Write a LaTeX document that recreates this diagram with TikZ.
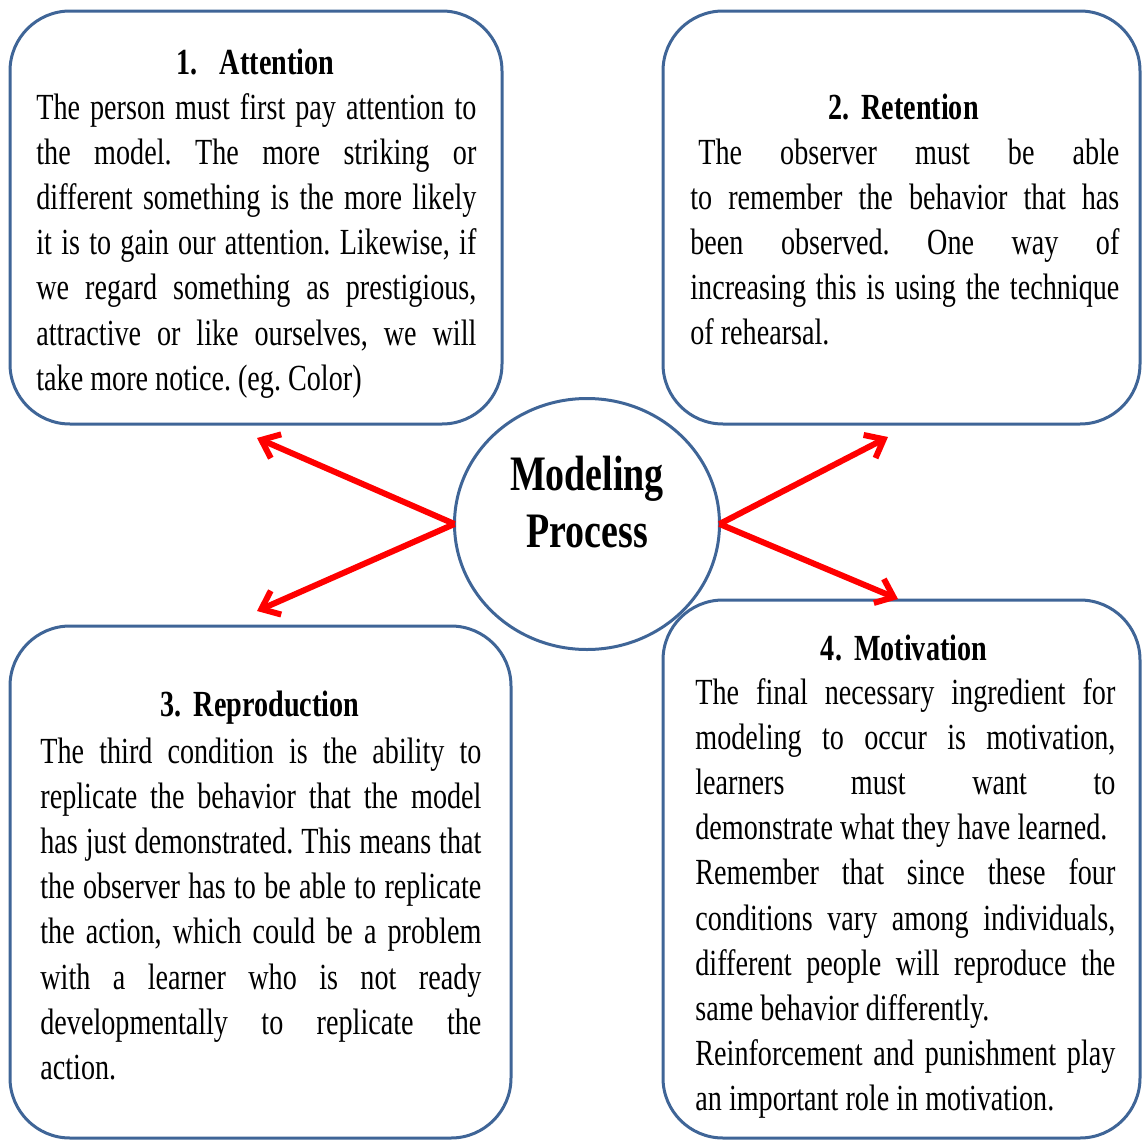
\documentclass[tikz,border=0pt]{standalone}
\usepackage{fontspec}
\setmainfont{Liberation Serif}[FakeStretch=0.765]
\usetikzlibrary{arrows.meta,shapes.geometric}
\definecolor{boxblue}{HTML}{3F6597}
\definecolor{pagegray}{HTML}{8C8C8C}
\tikzset{
  panel/.style={draw=boxblue, line width=1.5pt, rounded corners=30pt, fill=white},
  ttl/.style={anchor=base, inner sep=0pt, font=\fontsize{18.4}{22.6}\selectfont\bfseries},
  body/.style={anchor=base west, inner sep=0pt, align=justify,
    font=\fontsize{18.4}{22.6}\selectfont},
  hub/.style={ellipse, draw=boxblue, line width=1.5pt, fill=white, outer sep=0pt,
    minimum width=132.5pt, minimum height=125.5pt},
  hubtext/.style={anchor=base, inner sep=0pt, text width=100pt, align=center,
    font=\fontsize{24.8}{28.5}\selectfont\bfseries},
  link/.style={draw=red, line width=3pt, -{Straight Barb[length=8pt,width=13pt]}},
}
\begin{document}
\tolerance=10000
\hbadness=10000
\frenchspacing
\begin{tikzpicture}[x=0.5pt, y=-0.5pt]
\useasboundingbox (0,0) rectangle (1142,1141);

% page number, mostly hidden behind panel 3
\node[text=pagegray, inner sep=0pt, anchor=base, font=\fontsize{10}{10}\selectfont] (pg) at (26,1118) {1};

% panels
\draw[panel] (10,11) rectangle (502,424);
\draw[panel] (663,11) rectangle (1140,424);
\draw[panel] (10,626) rectangle (511,1138);
\draw[panel] (663,600) rectangle (1140,1138);

% panel 1
\node[ttl] (t1) at (255.5,74) {1.\hspace{11pt}Attention};
\node[body, text width=220pt] (b1) at (36,119) {The person must first pay attention to\linebreak
the model. The more striking or\linebreak
different something is the more likely\linebreak
it is to gain our attention. Likewise, if\linebreak
we regard something as prestigious,\linebreak
attractive or like ourselves, we will\linebreak
take more notice. (eg. Color)};

% panel 2
\node[ttl] (t2) at (903.5,119) {2.\hspace{6pt}Retention};
\node[body, text width=214.5pt] (b2) at (690,164) {\hspace*{4pt}The observer must be able\linebreak
to remember the behavior that has\linebreak
been observed. One way of\linebreak
increasing this is using the technique\linebreak
of rehearsal.};

% panel 3
\node[ttl] (t3) at (260,716) {3.\hspace{6pt}Reproduction};
\node[body, text width=220.5pt] (b3) at (40,763) {The third condition is the ability to\linebreak
replicate the behavior that the model\linebreak
has just demonstrated. This means that\linebreak
the observer has to be able to replicate\linebreak
the action, which could be a problem\linebreak
with a learner who is not ready\linebreak
developmentally to replicate the\linebreak
action.};

% panel 4
\node[ttl] (t4) at (904,660) {4.\hspace{6pt}Motivation};
\node[body, text width=210pt] (b4) at (695,704) {The final necessary ingredient for\linebreak
modeling to occur is motivation,\linebreak
learners must want to\linebreak
demonstrate what they have learned.\\
Remember that since these four\linebreak
conditions vary among individuals,\linebreak
different people will reproduce the\linebreak
same behavior differently.\\
Reinforcement and punishment play\linebreak
an important role in motivation.};

% hub
\node[hub] (mp) at (587,524) {};
\node[hubtext] (mpt) at (587,490) {Modeling\\Process};

% arrow tips
\coordinate (a1) at (257,438);
\coordinate (a3) at (257,611);
\coordinate (a2) at (888,437);
\coordinate (a4) at (898,599);

\draw[link] (mp.west) -- (a1);
\draw[link] (mp.west) -- (a3);
\draw[link] (mp.east) -- (a2);
\draw[link] (mp.east) -- (a4);
\end{tikzpicture}
\end{document}
